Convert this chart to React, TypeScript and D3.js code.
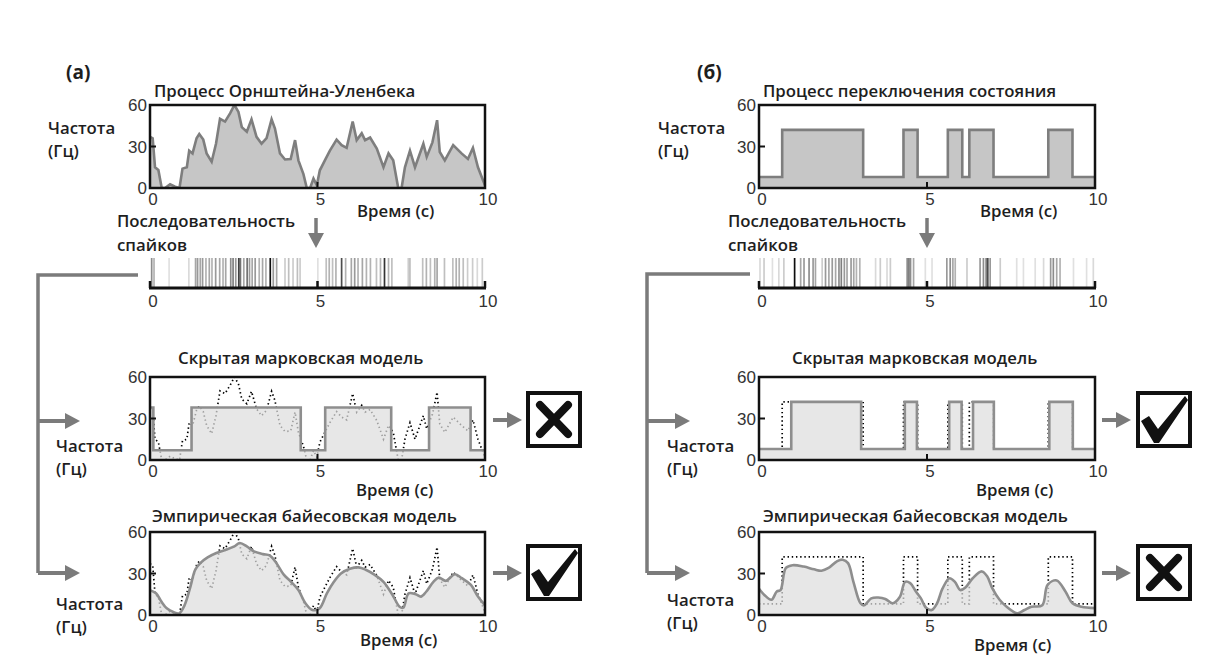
import React from 'react';
import * as d3 from 'd3';

// Ornstein-Uhlenbeck rate (Hz) sampled over 0..10 s
const ouTime = [0, 0.08, 0.15, 0.25, 0.35, 0.45, 0.6, 0.75, 0.88, 0.97, 1.1, 1.17, 1.27, 1.39, 1.47, 1.59, 1.69, 1.84, 1.97, 2.09, 2.24, 2.39, 2.52, 2.64, 2.74, 2.89, 3.03, 3.18, 3.33, 3.48, 3.63, 3.73, 3.88, 4.03, 4.2, 4.33, 4.43, 4.58, 4.68, 4.78, 4.88, 4.98, 5.07, 5.22, 5.37, 5.57, 5.72, 5.87, 6.05, 6.17, 6.32, 6.42, 6.57, 6.77, 6.97, 7.12, 7.26, 7.41, 7.51, 7.61, 7.76, 7.91, 8.16, 8.26, 8.43, 8.57, 8.65, 8.8, 9.05, 9.3, 9.49, 9.64, 9.79, 9.94, 10];
const ouRate = [37, 36, 15, 13, 0, 0, 2.7, 1, 0, 14, 15, 27, 25, 36, 39, 35, 25, 19, 32, 50, 48, 54, 60, 55, 44, 40.7, 49.6, 37, 32, 36, 49.6, 43, 25, 20.6, 21, 34.6, 20, 10, 0, 0, 6.8, 2, 12.8, 20, 27, 35, 31, 29, 48, 34.6, 39.5, 34.6, 36.5, 28.5, 15, 25, 20, 0, 0, 15, 27, 15, 32, 22.5, 33, 49, 26, 20, 31, 25, 21, 29, 15, 5.6, 2];

// state-switching rate: change times and the rate holding from each time
const switchTime = [0, 0.69, 3.1, 4.3, 4.72, 5.62, 6.05, 6.26, 6.98, 8.61, 9.33, 10];
const switchRate = [8, 42, 8, 42, 8, 42, 8, 42, 8, 42, 8, 8];

// hidden Markov model estimates
const hmmATime = [0, 0.1, 1.24, 4.5, 5.23, 7.2, 8.33, 9.57, 10];
const hmmARate = [38, 7, 38, 7, 38, 7, 38, 7, 7];
const hmmBTime = [0, 0.96, 3.04, 4.34, 4.7, 5.66, 6.03, 6.37, 6.99, 8.64, 9.34, 10];
const hmmBRate = [8, 42, 8, 42, 8, 42, 8, 42, 8, 42, 8, 8];

// empirical Bayes estimates
const bayesATime = [0, 0.18, 0.34, 0.5, 0.71, 0.87, 1.03, 1.19, 1.35, 1.5, 1.72, 1.98, 2.25, 2.52, 2.68, 2.89, 3.1, 3.37, 3.58, 3.74, 4.0, 4.21, 4.43, 4.64, 4.85, 5.06, 5.28, 5.49, 5.7, 5.97, 6.23, 6.44, 6.71, 6.97, 7.24, 7.45, 7.56, 7.72, 7.93, 8.09, 8.25, 8.46, 8.62, 8.83, 9.1, 9.31, 9.58, 9.79, 10];
const bayesARate = [18, 15.7, 9.7, 4.8, 2, 1.2, 7, 19, 32.7, 37.5, 41.6, 44.8, 47, 49.6, 52, 49.6, 46, 44, 43, 38.7, 29, 24, 18, 8.5, 3.6, 4.8, 15.7, 24, 30, 33.4, 34.4, 32.7, 29, 24, 14.5, 6, 5.3, 15.7, 15, 13.3, 17, 24, 27, 24.7, 29.5, 26.6, 21.8, 13.3, 7];
const bayesBTime = [0, 0.16, 0.37, 0.53, 0.64, 0.8, 1.0, 1.33, 1.64, 1.86, 2.07, 2.33, 2.49, 2.65, 2.81, 3.02, 3.13, 3.34, 3.55, 3.76, 3.98, 4.19, 4.35, 4.5, 4.67, 4.82, 4.98, 5.14, 5.3, 5.46, 5.67, 5.83, 5.99, 6.15, 6.36, 6.63, 6.79, 6.95, 7.16, 7.37, 7.69, 7.9, 8.11, 8.43, 8.59, 8.86, 9.12, 9.33, 9.6, 10];
const bayesBRate = [19, 14.5, 11, 17, 18, 34, 36, 35, 33, 32, 34, 39, 40, 37.5, 24, 8.5, 7, 12, 12.6, 11.6, 8.5, 13, 24, 23, 17, 12, 5, 3.6, 8.5, 19, 26.6, 24, 18, 20, 26.6, 31.5, 28, 19, 11, 6, 1.2, 3.6, 6, 7, 21.8, 25, 17, 8.5, 6, 5];

// spike trains: spike times (s) and how dark each stroke is
const spikeATime = [0.05, 0.12, 0.57, 1.16, 1.36, 1.42, 1.5, 1.57, 1.67, 1.77, 1.85, 1.96, 2.08, 2.18, 2.26, 2.41, 2.48, 2.56, 2.65, 2.7, 2.8, 2.9, 2.97, 3.05, 3.14, 3.26, 3.36, 3.46, 3.59, 3.68, 3.78, 4.03, 4.14, 4.27, 4.4, 4.48, 5.01, 5.26, 5.35, 5.45, 5.55, 5.72, 5.84, 6.01, 6.11, 6.21, 6.34, 6.46, 6.58, 6.76, 6.88, 7.0, 7.12, 7.22, 7.71, 7.76, 8.14, 8.25, 8.37, 8.5, 8.57, 8.79, 9.04, 9.14, 9.23, 9.35, 9.48, 9.63, 9.77, 9.92];
const spikeAShade = [0.45, 0.3, 0.12, 0.15, 0.35, 0.4, 0.35, 0.4, 0.3, 0.35, 0.3, 0.4, 0.35, 0.3, 0.35, 0.45, 0.5, 0.4, 0.75, 0.55, 0.35, 0.55, 0.4, 0.35, 0.4, 0.3, 0.35, 0.3, 0.95, 0.4, 0.35, 0.2, 0.25, 0.2, 0.25, 0.2, 0.12, 0.25, 0.3, 0.25, 0.3, 0.7, 0.3, 0.35, 0.4, 0.3, 0.35, 0.3, 0.3, 0.25, 0.3, 0.8, 0.3, 0.25, 0.2, 0.25, 0.25, 0.3, 0.25, 0.3, 0.35, 0.25, 0.25, 0.3, 0.3, 0.25, 0.2, 0.2, 0.15, 0.2];
const spikeBTime = [0.03, 0.15, 0.4, 0.59, 0.74, 1.06, 1.24, 1.34, 1.49, 1.61, 1.68, 1.88, 1.98, 2.08, 2.18, 2.28, 2.38, 2.45, 2.54, 2.62, 2.74, 2.82, 2.9, 3.0, 3.47, 3.61, 3.81, 3.91, 4.41, 4.46, 4.51, 4.6, 4.95, 5.15, 5.59, 5.69, 5.77, 5.84, 6.19, 6.58, 6.68, 6.76, 6.81, 6.88, 7.18, 7.67, 7.87, 8.22, 8.47, 8.68, 8.76, 8.86, 8.96, 9.36, 9.75, 9.95];
const spikeBShade = [0.15, 0.2, 0.12, 0.15, 0.2, 0.95, 0.35, 0.4, 0.45, 0.4, 0.35, 0.2, 0.4, 0.35, 0.4, 0.35, 0.45, 0.5, 0.4, 0.35, 0.4, 0.35, 0.3, 0.3, 0.15, 0.2, 0.15, 0.2, 0.45, 0.5, 0.45, 0.35, 0.12, 0.12, 0.4, 0.45, 0.35, 0.3, 0.2, 0.4, 0.45, 0.5, 0.7, 0.4, 0.2, 0.12, 0.12, 0.12, 0.15, 0.4, 0.45, 0.35, 0.3, 0.12, 0.12, 0.15];

const timeTicks = [0, 5, 10];
const rateTicks = [0, 30, 60];

const LABEL_FONT = "'Open Sans', 'Noto Sans', sans-serif";
const NUM_FONT = "'Liberation Sans', Arial, sans-serif";
const LS = 16.8; // label font size
const NS = 17; // number font size
const TXT = '#1e1e1e';
const ARROW = '#7b7b7b';

type Box = { x0: number; x1: number; y0: number; y1: number };

const zip = (t: number[], v: number[]) => t.map((d, i) => [d, v[i]] as [number, number]);

function scalesFor(b: Box) {
  const x = d3.scaleLinear().domain([0, 10]).range([b.x0, b.x1]);
  const y = d3.scaleLinear().domain([0, 60]).range([b.y1, b.y0]);
  return { x, y };
}

function Label({ x, y, children, size = LS, weight = 600 }: any) {
  return (
    <text x={x} y={y} fontFamily={LABEL_FONT} fontWeight={weight} fontSize={size} fill={TXT}>{children}</text>
  );
}

function Arrow({ x1, y1, x2, y2, head = 15, half = 8, w = 4 }: any) {
  const ang = Math.atan2(y2 - y1, x2 - x1);
  const bx = x2 - head * Math.cos(ang);
  const by = y2 - head * Math.sin(ang);
  const px = -Math.sin(ang) * half;
  const py = Math.cos(ang) * half;
  return (
    <g>
      <line x1={x1} y1={y1} x2={bx} y2={by} stroke={ARROW} strokeWidth={w} />
      <polygon points={`${x2},${y2} ${bx + px},${by + py} ${bx - px},${by - py}`} fill={ARROW} />
    </g>
  );
}

function Panel({ id, box, title, titleX, titleY, labX, labY, timeX, timeY, children }: any) {
  const { x, y } = scalesFor(box);
  return (
    <g>
      <defs>
        <clipPath id={id}>
          <rect x={box.x0} y={box.y0} width={box.x1 - box.x0} height={box.y1 - box.y0} />
        </clipPath>
      </defs>
      <Label x={titleX} y={titleY}>{title}</Label>
      <Label x={labX} y={labY}>Частота</Label>
      <Label x={labX} y={labY + 23}>(Гц)</Label>
      <g clipPath={`url(#${id})`}>{children(x, y)}</g>
      <rect x={box.x0} y={box.y0} width={box.x1 - box.x0} height={box.y1 - box.y0} fill="none" stroke="#111" strokeWidth={2.5} />
      <line x1={box.x0} x2={box.x0 + 6} y1={y(30)} y2={y(30)} stroke="#111" strokeWidth={2} />
      <line x1={x(5)} x2={x(5)} y1={box.y1} y2={box.y1 - 6} stroke="#111" strokeWidth={2} />
      {rateTicks.map((v) => (
        <text key={v} x={box.x0 - 3} y={y(v) + 6} textAnchor="end" fontFamily={NUM_FONT} fontSize={NS} fill="#333">{v}</text>
      ))}
      {timeTicks.map((v) => (
        <text key={v} x={x(v) + 3} y={box.y1 + 17} textAnchor="middle" fontFamily={NUM_FONT} fontSize={NS} fill="#333">{v}</text>
      ))}
      <Label x={timeX} y={timeY}>Время (с)</Label>
    </g>
  );
}

function SpikeTrain({ x0, x1, yTop, yAxis, times, shades }: any) {
  const x = d3.scaleLinear().domain([0, 10]).range([x0, x1]);
  return (
    <g>
      {times.map((t: number, i: number) => (
        <line key={i} x1={x(t)} x2={x(t)} y1={yTop} y2={yAxis - 1} stroke="#000" strokeOpacity={shades[i]} strokeWidth={1.7} />
      ))}
      <line x1={x0 - 1} x2={x1 + 1} y1={yAxis} y2={yAxis} stroke="#111" strokeWidth={2.8} />
      {timeTicks.map((v) => (
        <g key={v}>
          <line x1={x(v)} x2={x(v)} y1={yAxis} y2={yAxis - 7} stroke="#111" strokeWidth={2.5} />
          <text x={x(v) + 3} y={yAxis + 19} textAnchor="middle" fontFamily={NUM_FONT} fontSize={NS} fill="#333">{v}</text>
        </g>
      ))}
    </g>
  );
}

function CheckBox({ x, y, kind }: any) {
  const w = 52;
  const h = 53;
  return (
    <g>
      <rect x={x} y={y} width={w} height={h} fill="#fff" stroke="#111" strokeWidth={4} />
      {kind === 'x' ? (
        <g stroke="#111" strokeWidth={8} strokeLinecap="round">
          <line x1={x + 12} y1={y + 12} x2={x + 40} y2={y + 41} />
          <line x1={x + 40} y1={y + 12} x2={x + 12} y2={y + 41} />
        </g>
      ) : (
        <polygon
          fill="#111"
          points={`${x + 3},${y + 28} ${x + 11},${y + 23} ${x + 20},${y + 36} ${x + 47},${y + 3} ${x + 50},${y + 7} ${x + 21},${y + 50} ${x + 16},${y + 50}`}
        />
      )}
    </g>
  );
}

const dotted = { stroke: '#000', strokeWidth: 1.7, strokeDasharray: '1.4 2.8', fill: 'none' };

export default function App() {
  const L = { x0: 150, x1: 485 };
  const R = { x0: 759, x1: 1095 };
  const rows = { top: [105, 188], hmm: [377, 460], bay: [532, 615] };
  const bx = (c: any, r: number[]): Box => ({ x0: c.x0, x1: c.x1, y0: r[0], y1: r[1] });

  const drawTop = (pts: [number, number][], curve: any) => (x: any, y: any) => {
    const area = d3.area<[number, number]>().x((d) => x(d[0])).y0(y(0)).y1((d) => y(d[1])).curve(curve);
    const line = d3.line<[number, number]>().x((d) => x(d[0])).y((d) => y(d[1])).curve(curve);
    return (
      <g>
        <path d={area(pts) || ''} fill="#c6c6c6" />
        <path d={line(pts) || ''} fill="none" stroke="#7e7e7e" strokeWidth={2.6} />
      </g>
    );
  };

  const drawModel = (truth: [number, number][], truthCurve: any, est: [number, number][], estCurve: any) => (x: any, y: any) => {
    const tLine = d3.line<[number, number]>().x((d) => x(d[0])).y((d) => y(d[1])).curve(truthCurve);
    const area = d3.area<[number, number]>().x((d) => x(d[0])).y0(y(0)).y1((d) => y(d[1])).curve(estCurve);
    const line = d3.line<[number, number]>().x((d) => x(d[0])).y((d) => y(d[1])).curve(estCurve);
    return (
      <g>
        <path d={tLine(truth) || ''} {...dotted} />
        <path d={area(est) || ''} fill="#dedede" fillOpacity={0.72} />
        <path d={line(est) || ''} fill="none" stroke="#8e8e8e" strokeWidth={2.6} />
      </g>
    );
  };

  const ou = zip(ouTime, ouRate);
  const sw = zip(switchTime, switchRate);

  return (
    <svg width={1220} height={669} style={{ position: 'absolute', left: 0, top: 0, background: '#fff' }}>
      <Label x={66} y={79} size={19} weight={700}>(а)</Label>
      <Label x={697} y={79} size={19} weight={700}>(б)</Label>

      {/* column (a) */}
      <Panel id="cA1" box={bx(L, rows.top)} title="Процесс Орнштейна-Уленбека" titleX={154} titleY={97}
        labX={48} labY={134} timeX={357} timeY={217}>
        {drawTop(ou, d3.curveLinear)}
      </Panel>
      <Label x={117} y={227}>Последовательность</Label>
      <Label x={117} y={251}>спайков</Label>
      <Arrow x1={316} y1={218} x2={316} y2={248} head={15} half={8} w={3.5} />
      <SpikeTrain x0={150} x1={485} yTop={258} yAxis={288} times={spikeATime} shades={spikeAShade} />
      <Panel id="cA2" box={bx(L, rows.hmm)} title="Скрытая марковская модель" titleX={178} titleY={364}
        labX={56} labY={452} timeX={356} timeY={496}>
        {drawModel(ou, d3.curveLinear, zip(hmmATime, hmmARate), d3.curveStepAfter)}
      </Panel>
      <Panel id="cA3" box={bx(L, rows.bay)} title="Эмпирическая байесовская модель" titleX={152} titleY={522}
        labX={56} labY={610} timeX={360} timeY={646}>
        {drawModel(ou, d3.curveLinear, zip(bayesATime, bayesARate), d3.curveCatmullRom)}
      </Panel>
      <polyline points="138,275 38,275 38,573" fill="none" stroke={ARROW} strokeWidth={3.5} />
      <Arrow x1={38} y1={421} x2={80} y2={421} />
      <Arrow x1={38} y1={573} x2={80} y2={573} />
      <Arrow x1={493} y1={420} x2={522} y2={420} />
      <Arrow x1={493} y1={573} x2={522} y2={573} />
      <CheckBox x={528} y={393} kind="x" />
      <CheckBox x={528} y={546} kind="check" />

      {/* column (б) */}
      <Panel id="cB1" box={bx(R, rows.top)} title="Процесс переключения состояния" titleX={763} titleY={97}
        labX={658} labY={134} timeX={980} timeY={217}>
        {drawTop(sw, d3.curveStepAfter)}
      </Panel>
      <Label x={728} y={227}>Последовательность</Label>
      <Label x={728} y={251}>спайков</Label>
      <Arrow x1={927} y1={218} x2={927} y2={248} head={15} half={8} w={3.5} />
      <SpikeTrain x0={759} x1={1095} yTop={258} yAxis={288} times={spikeBTime} shades={spikeBShade} />
      <Panel id="cB2" box={bx(R, rows.hmm)} title="Скрытая марковская модель" titleX={792} titleY={364}
        labX={667} labY={452} timeX={976} timeY={496}>
        {drawModel(sw, d3.curveStepAfter, zip(hmmBTime, hmmBRate), d3.curveStepAfter)}
      </Panel>
      <Panel id="cB3" box={bx(R, rows.bay)} title="Эмпирическая байесовская модель" titleX={763} titleY={522}
        labX={667} labY={606} timeX={974} timeY={651}>
        {drawModel(sw, d3.curveStepAfter, zip(bayesBTime, bayesBRate), d3.curveCatmullRom)}
      </Panel>
      <polyline points="750,274 647,274 647,573" fill="none" stroke={ARROW} strokeWidth={3.5} />
      <Arrow x1={647} y1={421} x2={690} y2={421} />
      <Arrow x1={647} y1={573} x2={690} y2={573} />
      <Arrow x1={1102} y1={420} x2={1131} y2={420} />
      <Arrow x1={1102} y1={573} x2={1131} y2={573} />
      <CheckBox x={1138} y={393} kind="check" />
      <CheckBox x={1138} y={546} kind="x" />
    </svg>
  );
}
